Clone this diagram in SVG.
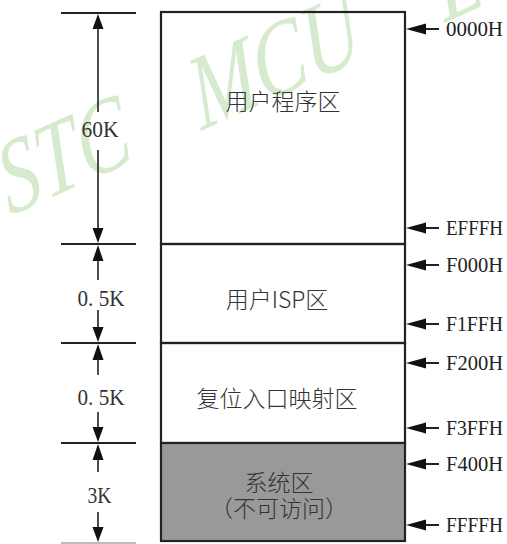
<svg xmlns="http://www.w3.org/2000/svg" width="507" height="544" viewBox="0 0 507 544">
  <defs>
    <style>
      .wm { font-family: "Liberation Serif", serif; font-style: italic; font-size: 104px; fill: #d6ebcd; }
      .box { fill: none; stroke: #222222; stroke-width: 2.2; }
      .gray { fill: #999999; stroke: #222222; stroke-width: 2.2; }
      .zh { font-family: "Noto Sans CJK SC", sans-serif; font-weight: 300; font-size: 23px; fill: #333333; text-anchor: middle; dominant-baseline: central; }
      .addr { font-family: "Liberation Serif", serif; font-size: 21px; fill: #222222; dominant-baseline: central; }
      .dim { font-family: "Liberation Serif", serif; font-size: 24px; fill: #333333; text-anchor: middle; dominant-baseline: central; }
      .tick { stroke: #222222; stroke-width: 2.2; }
      .vline { stroke: #222222; stroke-width: 1.6; }
      .ptr { stroke: #222222; stroke-width: 2; }
      .head { fill: #111111; }
    </style>
  </defs>

  <!-- watermark -->
  <g id="watermark" transform="translate(10,216) rotate(-24) skewX(-8)">
    <text class="wm" x="0" y="0" textLength="138" lengthAdjust="spacingAndGlyphs">STC</text>
    <text class="wm" x="210" y="0" textLength="180" lengthAdjust="spacingAndGlyphs">MCU</text>
    <text class="wm" x="476" y="0" textLength="47" lengthAdjust="spacingAndGlyphs">L</text>
  </g>

  <!-- memory blocks -->
  <g id="user-program">
    <rect class="box" x="161" y="12" width="244" height="232"/>
    <text class="zh" x="283" y="100">用户程序区</text>
  </g>
  <g id="user-isp">
    <rect class="box" x="161" y="244" width="244" height="99"/>
    <text class="zh" x="277" y="298">用户ISP区</text>
  </g>
  <g id="reset-map">
    <rect class="box" x="161" y="343" width="244" height="100"/>
    <text class="zh" x="277" y="397">复位入口映射区</text>
  </g>
  <g id="system">
    <rect class="gray" x="161" y="443" width="244" height="98"/>
    <text class="zh" x="279" y="481" font-size="22">系统区</text>
    <text class="zh" x="279" y="507" font-size="22">（不可访问）</text>
  </g>

  <!-- address pointers and dimensions -->
  <g id="connectors">
    <g id="addr-0000">
      <line class="ptr" x1="424" y1="29" x2="439" y2="29"/>
      <polygon class="head" points="406,29 426,23.5 426,34.5"/>
      <text class="addr" x="446" y="29" textLength="57" lengthAdjust="spacingAndGlyphs">0000H</text>
    </g>
    <g id="addr-efff">
      <line class="ptr" x1="424" y1="228" x2="439" y2="228"/>
      <polygon class="head" points="406,228 426,222.5 426,233.5"/>
      <text class="addr" x="446" y="228" textLength="57" lengthAdjust="spacingAndGlyphs">EFFFH</text>
    </g>
    <g id="addr-f000">
      <line class="ptr" x1="424" y1="265" x2="439" y2="265"/>
      <polygon class="head" points="406,265 426,259.5 426,270.5"/>
      <text class="addr" x="446" y="265" textLength="57" lengthAdjust="spacingAndGlyphs">F000H</text>
    </g>
    <g id="addr-f1ff">
      <line class="ptr" x1="424" y1="324" x2="439" y2="324"/>
      <polygon class="head" points="406,324 426,318.5 426,329.5"/>
      <text class="addr" x="446" y="324" textLength="57" lengthAdjust="spacingAndGlyphs">F1FFH</text>
    </g>
    <g id="addr-f200">
      <line class="ptr" x1="424" y1="363" x2="439" y2="363"/>
      <polygon class="head" points="406,363 426,357.5 426,368.5"/>
      <text class="addr" x="446" y="363" textLength="57" lengthAdjust="spacingAndGlyphs">F200H</text>
    </g>
    <g id="addr-f3ff">
      <line class="ptr" x1="424" y1="428" x2="439" y2="428"/>
      <polygon class="head" points="406,428 426,422.5 426,433.5"/>
      <text class="addr" x="446" y="428" textLength="57" lengthAdjust="spacingAndGlyphs">F3FFH</text>
    </g>
    <g id="addr-f400">
      <line class="ptr" x1="424" y1="464" x2="439" y2="464"/>
      <polygon class="head" points="406,464 426,458.5 426,469.5"/>
      <text class="addr" x="446" y="464" textLength="57" lengthAdjust="spacingAndGlyphs">F400H</text>
    </g>
    <g id="addr-ffff">
      <line class="ptr" x1="424" y1="525" x2="439" y2="525"/>
      <polygon class="head" points="406,525 426,519.5 426,530.5"/>
      <text class="addr" x="446" y="525" textLength="57" lengthAdjust="spacingAndGlyphs">FFFFH</text>
    </g>

    <g id="dim-ticks">
      <line class="tick" x1="61" y1="13" x2="136" y2="13"/>
      <line class="tick" x1="61" y1="244" x2="136" y2="244"/>
      <line class="tick" x1="61" y1="343" x2="136" y2="343"/>
      <line class="tick" x1="61" y1="443" x2="136" y2="443"/>
      <line x1="61" y1="543" x2="136" y2="543" stroke="#bbbbbb" stroke-width="2"/>
    </g>

    <g id="dim-60k">
      <polygon class="head" points="98,14 92.5,29 103.5,29"/>
      <line class="vline" x1="98" y1="28" x2="98" y2="112"/>
      <text class="dim" x="100" y="129" textLength="37" lengthAdjust="spacingAndGlyphs">60K</text>
      <line class="vline" x1="98" y1="150" x2="98" y2="229"/>
      <polygon class="head" points="98,243 92.5,228 103.5,228"/>
    </g>
    <g id="dim-isp">
      <polygon class="head" points="98,245 92.5,261 103.5,261"/>
      <line class="vline" x1="98" y1="260" x2="98" y2="280"/>
      <text class="dim" x="101" y="298" textLength="47" lengthAdjust="spacingAndGlyphs">0. 5K</text>
      <line class="vline" x1="98" y1="310" x2="98" y2="328"/>
      <polygon class="head" points="98,342 92.5,327 103.5,327"/>
    </g>
    <g id="dim-reset">
      <polygon class="head" points="98,344 92.5,360 103.5,360"/>
      <line class="vline" x1="98" y1="359" x2="98" y2="375"/>
      <text class="dim" x="101" y="397" textLength="47" lengthAdjust="spacingAndGlyphs">0. 5K</text>
      <line class="vline" x1="98" y1="412" x2="98" y2="428"/>
      <polygon class="head" points="98,442 92.5,427 103.5,427"/>
    </g>
    <g id="dim-3k">
      <polygon class="head" points="98,444 92.5,460 103.5,460"/>
      <line class="vline" x1="98" y1="459" x2="98" y2="472"/>
      <text class="dim" x="99.5" y="495" textLength="24" lengthAdjust="spacingAndGlyphs">3K</text>
      <line class="vline" x1="98" y1="512" x2="98" y2="528"/>
      <polygon class="head" points="98,542 92.5,527 103.5,527"/>
    </g>
  </g>
</svg>
